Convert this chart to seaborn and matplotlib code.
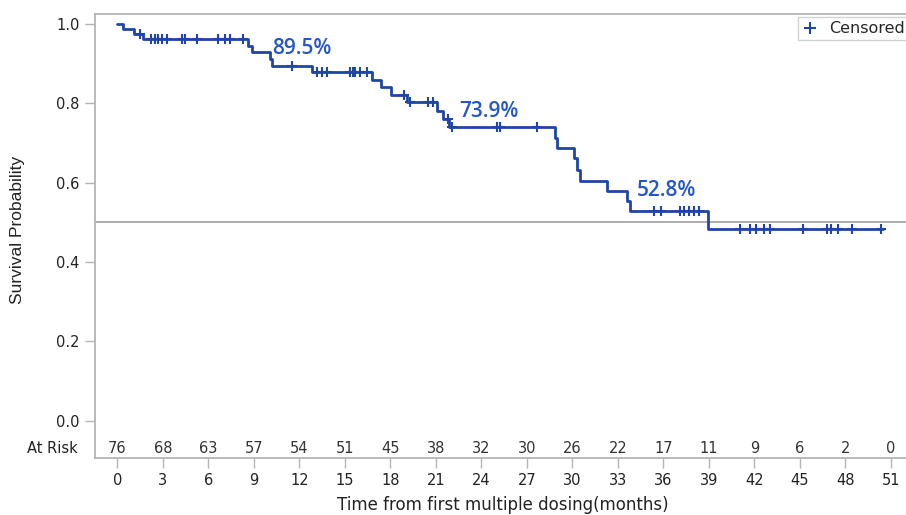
import numpy as np
import pandas as pd
import matplotlib.pyplot as plt
import matplotlib.lines as mlines
import seaborn as sns

sns.set_theme(style="white")
plt.rcParams['font.family'] = ['DejaVu Sans']

# Kaplan-Meier curve (months, survival probability)
step_times = [0, 0.40, 1.12, 1.72, 8.64, 8.87, 10.07, 10.20, 12.82, 16.78, 17.40,
              18.05, 19.09, 21.07, 21.50, 21.88, 28.87, 29.00, 30.08, 30.30, 30.52,
              32.28, 33.60, 33.82, 38.93]
survival = [1.000, 0.987, 0.974, 0.961, 0.944, 0.928, 0.911, 0.895, 0.878, 0.859, 0.840,
            0.821, 0.802, 0.781, 0.760, 0.739, 0.713, 0.688, 0.661, 0.633, 0.605,
            0.580, 0.553, 0.528, 0.484]
last_time = 50.5

censor_times = [1.50, 2.22, 2.49, 2.70, 2.93, 3.26, 4.25, 4.47, 5.24, 6.66, 7.10, 7.43, 8.26,
                11.54, 13.15, 13.48, 13.81, 15.35, 15.53, 15.68, 16.01, 16.45,
                18.87, 19.31, 20.51, 20.84, 21.78, 22.06, 25.03, 25.24, 27.67,
                35.36, 35.86, 37.12, 37.38, 37.67, 38.00, 38.33,
                41.03, 41.73, 42.13, 42.61, 43.05, 45.21, 46.79, 47.06, 47.52, 48.44, 50.36]

risk_times = [0, 3, 6, 9, 12, 15, 18, 21, 24, 27, 30, 33, 36, 39, 42, 45, 48, 51]
at_risk = [76, 68, 63, 57, 54, 51, 45, 38, 32, 30, 26, 22, 17, 11, 9, 6, 2, 0]

label_times = [10.20, 21.88, 33.82]
label_values = [0.895, 0.739, 0.528]
label_texts = ["89.5%", "73.9%", "52.8%"]

curve_color = '#1f45a6'
text_color = '#2456c8'
gray = '#b4b4b4'


def main():
    curve = pd.DataFrame({'time': step_times + [last_time],
                          'surv': survival + [survival[-1]]})
    idx = np.searchsorted(step_times, censor_times, side='right') - 1
    cens = pd.DataFrame({'time': censor_times,
                         'surv': np.array(survival)[idx]})

    fig = plt.figure(figsize=(9.06, 5.15), dpi=100)
    ax = fig.add_axes([95 / 906, 1 - 457.7 / 515, 1 - 95 / 906, (457.7 - 14) / 515])

    ax.axhline(0.5, color='#a8a8a8', lw=1.3, zorder=1)
    sns.lineplot(data=curve, x='time', y='surv', drawstyle='steps-post', estimator=None,
                 sort=False, color=curve_color, lw=2, ax=ax, zorder=3)
    sns.scatterplot(data=cens, x='time', y='surv', marker='+', s=45, color=curve_color,
                    linewidth=1.5, ax=ax, legend=False, zorder=4)

    offsets = [(0, 5), (7, 4), (5, 7)]
    for t, v, s, off in zip(label_times, label_values, label_texts, offsets):
        ax.annotate(s, xy=(t, v), xytext=off, textcoords='offset points',
                    ha='left', va='bottom', fontsize=15, color=text_color,
                    family=['Open Sans', 'DejaVu Sans'], fontweight='semibold')

    for t, n in zip(risk_times, at_risk):
        ax.text(t, -0.0696, str(n), ha='center', va='center', fontsize=10.5, color='#333333')
    fig.text(78 / 906, 1 - 448.3 / 515, 'At Risk', ha='right', va='center',
             fontsize=10.5, color='#222222')

    ax.set_xlim(-1.47, 52.0)
    ax.set_ylim(-0.0933, 1.025)
    ax.set_xticks(risk_times)
    ax.set_xticklabels([str(t) for t in risk_times])
    yt = [0.0, 0.2, 0.4, 0.6, 0.8, 1.0]
    ax.set_yticks(yt)
    ax.set_yticklabels([f"{v:.1f}" for v in yt])
    ax.tick_params(axis='both', direction='out', length=7, width=1, color=gray,
                   labelsize=10.5, labelcolor='#222222')
    ax.tick_params(axis='x', pad=4, bottom=True)
    ax.tick_params(axis='y', pad=4, left=True)

    for side in ['top', 'left', 'bottom']:
        ax.spines[side].set_color(gray)
        ax.spines[side].set_linewidth(1.3)
    ax.spines['right'].set_visible(False)

    ax.set_xlabel('')
    ax.set_ylabel('')
    fig.text(503 / 906, 1 / 515, 'Time from first multiple dosing(months)', ha='center',
             va='bottom', fontsize=12, color='#222222')
    fig.text(18 / 906, 1 - 230 / 515, 'Survival Probability', rotation=90, ha='center',
             va='center', fontsize=12.5, color='#222222', family=['Liberation Sans'])

    handle = mlines.Line2D([], [], color=curve_color, marker='+', linestyle='None',
                           markersize=8, markeredgewidth=1.5)
    leg = ax.legend([handle], ['Censored'], loc='upper right', bbox_to_anchor=(1.004, 0.993),
                    fontsize=11.5, frameon=True, fancybox=False, handlelength=1,
                    handletextpad=0.7, borderpad=0.25, borderaxespad=0)
    leg.get_frame().set_edgecolor('#c8c8c8')
    leg.get_frame().set_linewidth(1)

    fig.savefig('out.png', dpi=100)
    plt.close(fig)


if __name__ == "__main__":
    main()
